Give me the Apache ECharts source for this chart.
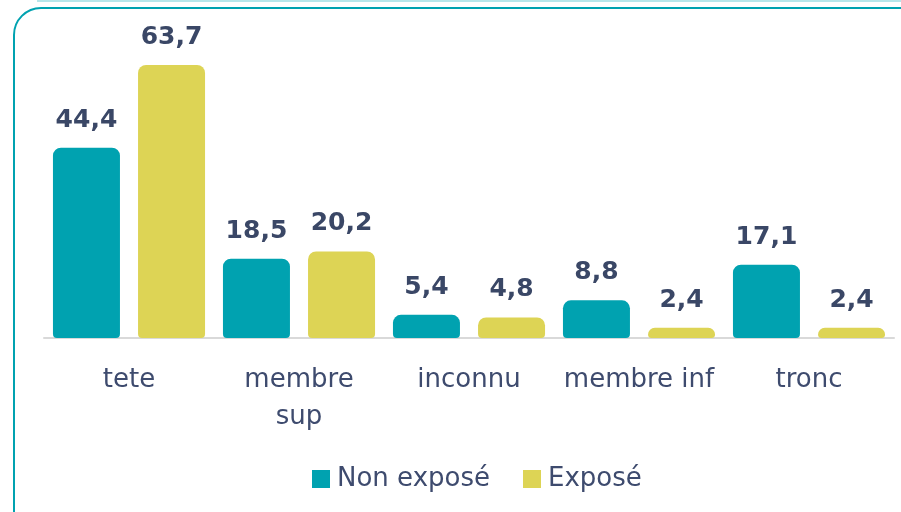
<!DOCTYPE html>
<html><head><meta charset="utf-8">
<script src="https://cdn.jsdelivr.net/npm/echarts@6/dist/echarts.min.js"></script>
<style>html,body{margin:0;padding:0;background:#fff}#c{width:901px;height:512px}</style>
</head><body><div id="c"></div>
<script>
const categories = ['tete', 'membre sup', 'inconnu', 'membre inf', 'tronc'];
const seriesNames = ['Non exposé', 'Exposé'];
const nonExpose = [44.4, 18.5, 5.4, 8.8, 17.1];
const expose = [63.7, 20.2, 4.8, 2.4, 2.4];

const chart = echarts.init(document.getElementById('c'));
const fmt = p => String(p.value).replace('.', ',');
const labelStyle = {show: true, position: 'top', distance: 15, formatter: fmt,
  fontFamily: 'DejaVu Sans', fontWeight: 'bold', fontSize: 25, color: '#3A4766'};
chart.setOption({
  animation: false,
  graphic: [
    {type: 'rect', shape: {x: 14, y: 8, width: 1000, height: 600, r: 27}, style: {fill: 'none', stroke: '#00A2B0', lineWidth: 2}},
    {type: 'rect', shape: {x: 37, y: 0, width: 900, height: 2}, style: {fill: '#B7E6EA'}}
  ],
  grid: {left: 44, right: 7, top: 38, bottom: 174},
  legend: {bottom: 15, left: 307, itemWidth: 18, itemHeight: 18, itemGap: 33, icon: 'rect',
    textStyle: {fontFamily: 'DejaVu Sans', fontSize: 26, color: '#3E4B6E', padding: [0, 0, 0, 2]}},
  xAxis: {type: 'category', data: categories,
    axisLine: {lineStyle: {color: '#D9D9D9', width: 2}}, axisTick: {show: false},
    axisLabel: {interval: 0, margin: 24, fontFamily: 'DejaVu Sans', fontSize: 26, color: '#3E4B6E', lineHeight: 37,
      formatter: v => v === 'membre sup' ? 'membre\nsup' : v}},
  yAxis: {type: 'value', min: 0, max: 70, show: false, splitLine: {show: false}},
  series: [
    {name: seriesNames[0], type: 'bar', data: nonExpose, barWidth: 67, barGap: '27%',
      itemStyle: {color: '#00A2B0', borderRadius: [8, 8, 4, 4]}, label: labelStyle},
    {name: seriesNames[1], type: 'bar', data: expose, barWidth: 67,
      itemStyle: {color: '#DDD455', borderRadius: [8, 8, 4, 4]}, label: labelStyle}
  ]
});
</script></body></html>
